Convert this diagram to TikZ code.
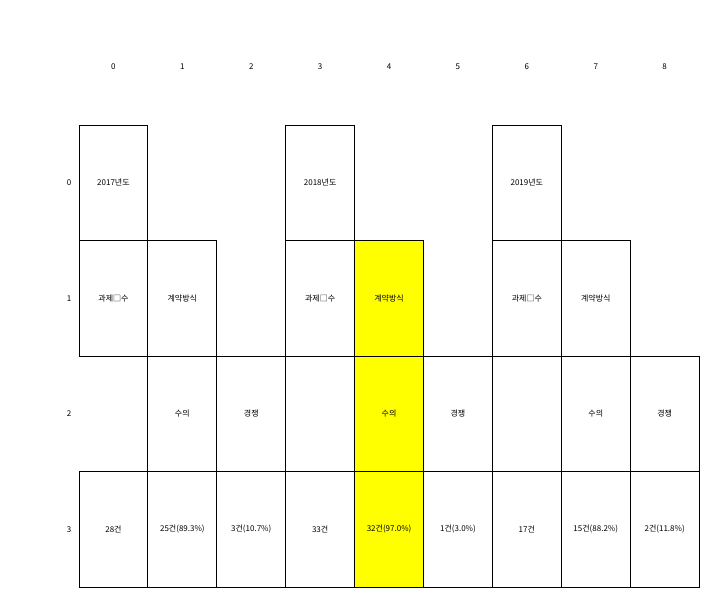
\documentclass[tikz,border=0pt]{standalone}
\usepackage{fontspec}
\setmainfont{Noto Sans CJK KR}
\usetikzlibrary{positioning}
\definecolor{hotyellow}{RGB}{255,255,0}

\tikzset{
  cell/.style={draw, line width=0.9pt, minimum width=68.9pt, minimum height=115.5pt,
    inner sep=0pt, font=\fontsize{8}{9}\selectfont},
  hot/.style={cell, fill=hotyellow},
  tick/.style={inner sep=0pt, font=\fontsize{8}{9}\selectfont},
}

\begin{document}
\begin{tikzpicture}[x=68.9pt, y=-115.5pt]
  \useasboundingbox (-1.6466,-1.5823) rectangle (8.6291,3.5866);
  % axis labels
  \foreach \c in {0,...,8} \node[tick] (col\c) at (\c,-1.002) {\c};
  \foreach \r in {0,...,3} \node[tick] (row\r) at (-0.645,\r) {\r};

  % year row
  \node[cell] (y17) at (0,0) {2017년도};
  \node[cell] (y18) at (3,0) {2018년도};
  \node[cell] (y19) at (6,0) {2019년도};

  % second row
  \node[cell] (n17) at (0,1) {과제□수};
  \node[cell] (m17) at (1,1) {계약방식};
  \node[cell] (n18) at (3,1) {과제□수};
  \node[hot]  (m18) at (4,1) {계약방식};
  \node[cell] (n19) at (6,1) {과제□수};
  \node[cell] (m19) at (7,1) {계약방식};

  % third row
  \node[cell] (s17) at (1,2) {수의};
  \node[cell] (k17) at (2,2) {경쟁};
  \node[hot]  (s18) at (4,2) {수의};
  \node[cell] (k18) at (5,2) {경쟁};
  \node[cell] (s19) at (7,2) {수의};
  \node[cell] (k19) at (8,2) {경쟁};

  % counts
  \node[cell] (t17) at (0,3) {28건};
  \node[cell] (a17) at (1,3) {25건(89.3\%)};
  \node[cell] (b17) at (2,3) {3건(10.7\%)};
  \node[cell] (t18) at (3,3) {33건};
  \node[hot]  (a18) at (4,3) {32건(97.0\%)};
  \node[cell] (b18) at (5,3) {1건(3.0\%)};
  \node[cell] (t19) at (6,3) {17건};
  \node[cell] (a19) at (7,3) {15건(88.2\%)};
  \node[cell] (b19) at (8,3) {2건(11.8\%)};
\end{tikzpicture}
\end{document}
